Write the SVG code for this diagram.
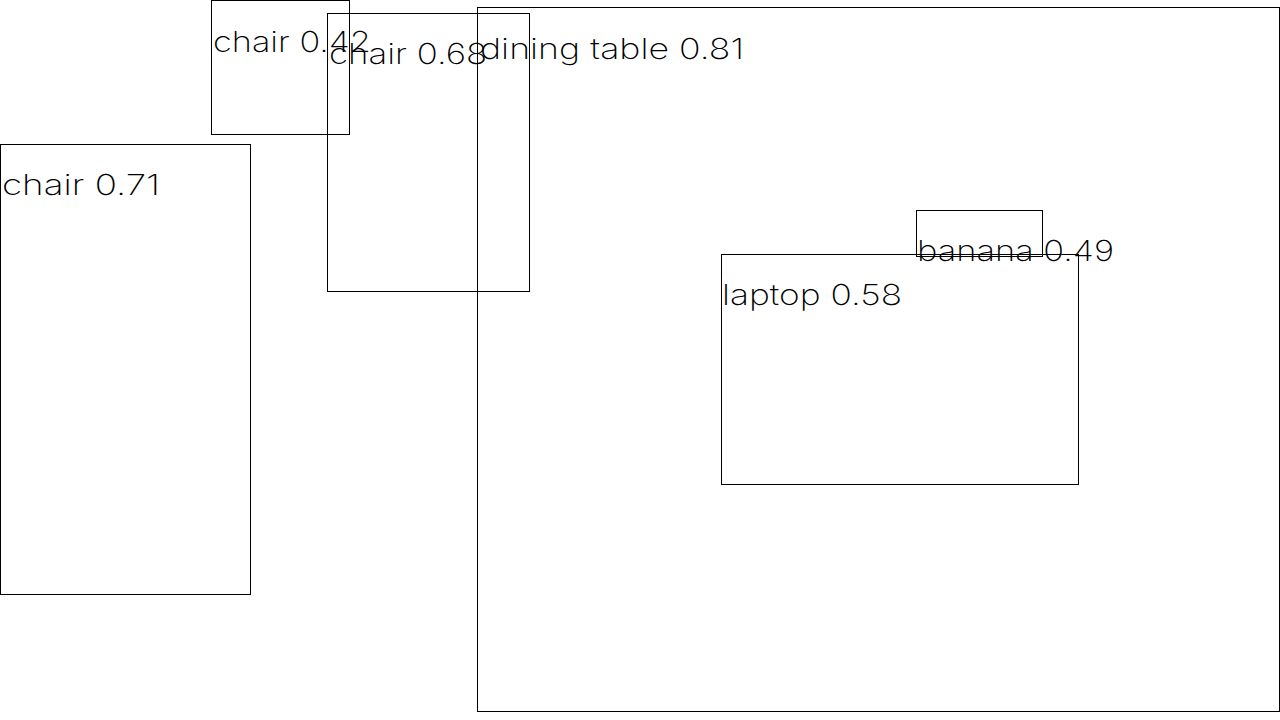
<svg xmlns="http://www.w3.org/2000/svg" width="1280" height="720" viewBox="0 0 1280 720">
<style>
rect.b{fill:none;stroke:#000;stroke-width:1}
text{font-family:Inter,"Liberation Sans","DejaVu Sans",sans-serif;font-size:29px;font-weight:200;fill:#000}
</style>
<rect width="1280" height="720" fill="#fff"/>
<g id="chair042"><rect class="b" x="211.5" y="0.5" width="138" height="134"/><text x="213" y="52" textLength="158" lengthAdjust="spacingAndGlyphs">chair 0.42</text></g>
<g id="chair068"><rect class="b" x="327.5" y="13.5" width="202" height="278"/><text x="329" y="64" textLength="158" lengthAdjust="spacingAndGlyphs">chair 0.68</text></g>
<g id="diningtable081"><rect class="b" x="477.5" y="7.5" width="802" height="704"/><text x="480" y="59" textLength="264" lengthAdjust="spacingAndGlyphs">dining table 0.81</text></g>
<g id="chair071"><rect class="b" x="0.5" y="144.5" width="250" height="450"/><text x="2" y="195" textLength="158" lengthAdjust="spacingAndGlyphs">chair 0.71</text></g>
<g id="banana049"><rect class="b" x="916.5" y="210.5" width="126" height="46"/><text x="917" y="261" textLength="197" lengthAdjust="spacingAndGlyphs">banana 0.49</text></g>
<g id="laptop058"><rect class="b" x="721.5" y="254.5" width="357" height="230"/><text x="722" y="305" textLength="180" lengthAdjust="spacingAndGlyphs">laptop 0.58</text></g>
<g id="connectors"></g>
</svg>
